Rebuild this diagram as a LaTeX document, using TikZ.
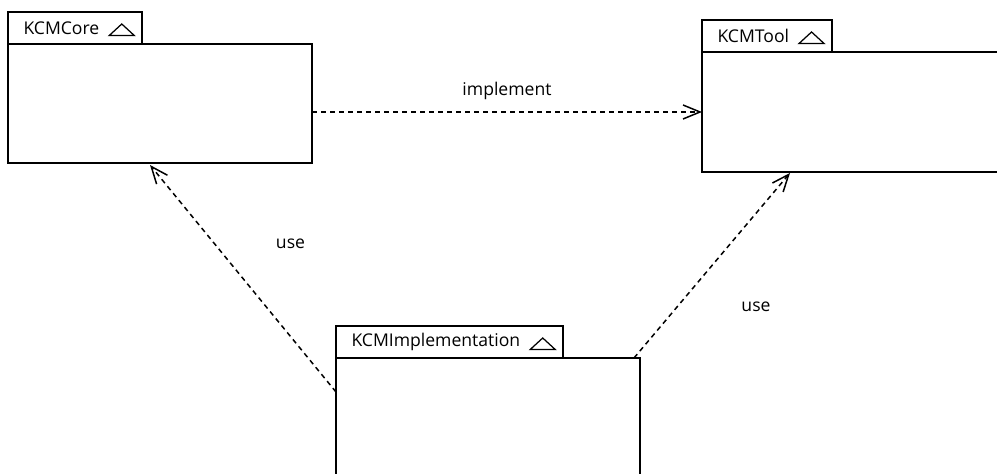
\documentclass[tikz,border=0pt]{standalone}
\usepackage{fontspec}
\setmainfont{Open Sans}
\usepackage{tikz}
\usetikzlibrary{arrows.meta, positioning, calc}
\tikzset{
  pkgbody/.style={rectangle, draw=black, line width=0.35mm, fill=white, anchor=north west, outer sep=0pt, inner sep=0pt},
  pkgtab/.style={rectangle, draw=black, line width=0.35mm, fill=white, anchor=south west, outer sep=0pt, inner xsep=0.16cm, inner ysep=0pt, minimum height=0.64cm, font=\fontsize{10}{12}\selectfont},
  deparrow/.style={-{Straight Barb[length=3.4mm, width=2.8mm]}, line width=0.3mm, dash pattern=on 1mm off 0.8mm},
  deplabel/.style={font=\fontsize{10}{12}\selectfont, inner sep=1pt}
}
\begin{document}
\begin{tikzpicture}
  \useasboundingbox (0,0) rectangle (19.94,-9.48);

  % package bodies
  \node[pkgbody, minimum width=6.08cm, minimum height=2.38cm] (corebody) at (0.16,-0.88) {};
  \node[pkgbody, minimum width=6.1cm, minimum height=2.40cm] (toolbody) at (14.04,-1.04) {};
  \node[pkgbody, minimum width=6.08cm, minimum height=2.6cm] (implbody) at (6.72,-7.16) {};

  % package tabs
  \node[pkgtab] (coretab) at (corebody.north west) {\hspace*{0.15cm}KCMCore\hspace*{0.7cm}};
  \node[pkgtab] (tooltab) at (toolbody.north west) {\hspace*{0.15cm}KCMTool\hspace*{0.7cm}};
  \node[pkgtab] (impltab) at (implbody.north west) {\hspace*{0.15cm}KCMImplementation\hspace*{0.7cm}};

  \foreach \t in {coretab, tooltab, impltab}
    \draw[line width=0.25mm] ($(\t.south east)+(-0.66,0.17)$) -- ++(0.5,0) -- ++(-0.25,0.23) -- cycle;

  % dependencies
  \draw[deparrow] (toolbody.west -| corebody.east) -- node[deplabel, above=0.2cm] (implementlbl) {implement} (toolbody.west);
  \draw[deparrow] ([yshift=-0.68cm]implbody.north west) -- node[deplabel, xshift=0.95cm, yshift=0.7cm] (uselbl1) {use} ([xshift=2.84cm, yshift=-0.04cm]corebody.south west);
  \draw[deparrow] ([xshift=-0.12cm]implbody.north east) -- node[deplabel, xshift=0.88cm, yshift=-0.82cm] (uselbl2) {use} ([xshift=1.76cm, yshift=-0.02cm]toolbody.south west);
\end{tikzpicture}
\end{document}
